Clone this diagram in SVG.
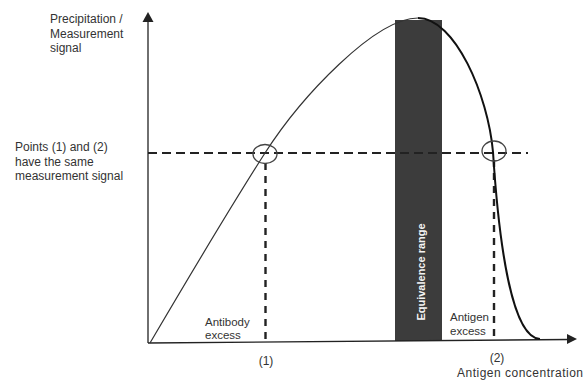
<svg xmlns="http://www.w3.org/2000/svg" width="586" height="380" viewBox="0 0 586 380">
<style>
.t{font-family:"Liberation Sans",Arial,sans-serif;fill:#333;}
.ax{stroke:#222;stroke-width:1.3;fill:none;}
.dh{stroke:#222;stroke-width:2;stroke-dasharray:9 5;fill:none;}
.dv{stroke:#222;stroke-width:2.4;stroke-dasharray:7 6;fill:none;}
.ring{stroke:#444;stroke-width:1.3;fill:none;}
</style>
<rect width="586" height="380" fill="#fff"/>
<g id="band">
<rect x="395" y="20" width="47" height="321" fill="#3c3c3c"/>
<text class="t" transform="translate(425,272) rotate(-90)" text-anchor="middle" font-size="11" font-weight="bold" style="fill:#f4f4f4">Equivalence range</text>
</g>
<g id="connectors">
<path class="ax" d="M148,343 V20"/>
<path d="M148,12 L142.5,22 L153.5,22 Z" fill="#222"/>
<path class="ax" d="M148,343 L569,339.5"/>
<path d="M577,339 L567,334 L567,344 Z" fill="#222"/>
<path class="dh" d="M148,153 H528"/>
<path class="dv" d="M265.5,163 V343"/>
<path class="dv" d="M494,160 V340"/>
</g>
<g id="curve">
<path d="M150,343 C190,275 235,200 265,153 C301,97 375,18 418,18" stroke="#333" stroke-width="1.2" fill="none"/>
<path d="M418,18 C455,18 488,95 493,152 C499,245 512,338 540,339" stroke="#111" stroke-width="2" fill="none"/>
</g>
<g id="point1">
<ellipse class="ring" cx="265" cy="154" rx="12" ry="9.5"/>
</g>
<g id="point2">
<ellipse class="ring" cx="494" cy="151" rx="12" ry="10"/>
</g>
<g id="y-label">
<text class="t" font-size="12"><tspan x="50" y="23">Precipitation /</tspan><tspan x="50" y="37.5">Measurement</tspan><tspan x="50" y="52">signal</tspan></text>
</g>
<g id="note">
<text class="t" font-size="12"><tspan x="15" y="151">Points (1) and (2)</tspan><tspan x="15" y="165.5">have the same</tspan><tspan x="15" y="180">measurement signal</tspan></text>
</g>
<g id="antibody-excess">
<text class="t" font-size="11.5"><tspan x="205" y="326">Antibody</tspan><tspan x="205" y="339">excess</tspan></text>
</g>
<g id="antigen-excess">
<text class="t" font-size="11.5"><tspan x="450" y="321">Antigen</tspan><tspan x="450" y="335">excess</tspan></text>
</g>
<g id="x-labels">
<text class="t" font-size="12" x="266" y="365" text-anchor="middle">(1)</text>
<text class="t" font-size="12" x="497" y="362" text-anchor="middle">(2)</text>
<text class="t" font-size="12" x="457" y="377" textLength="126" lengthAdjust="spacing">Antigen concentration</text>
</g>
</svg>
